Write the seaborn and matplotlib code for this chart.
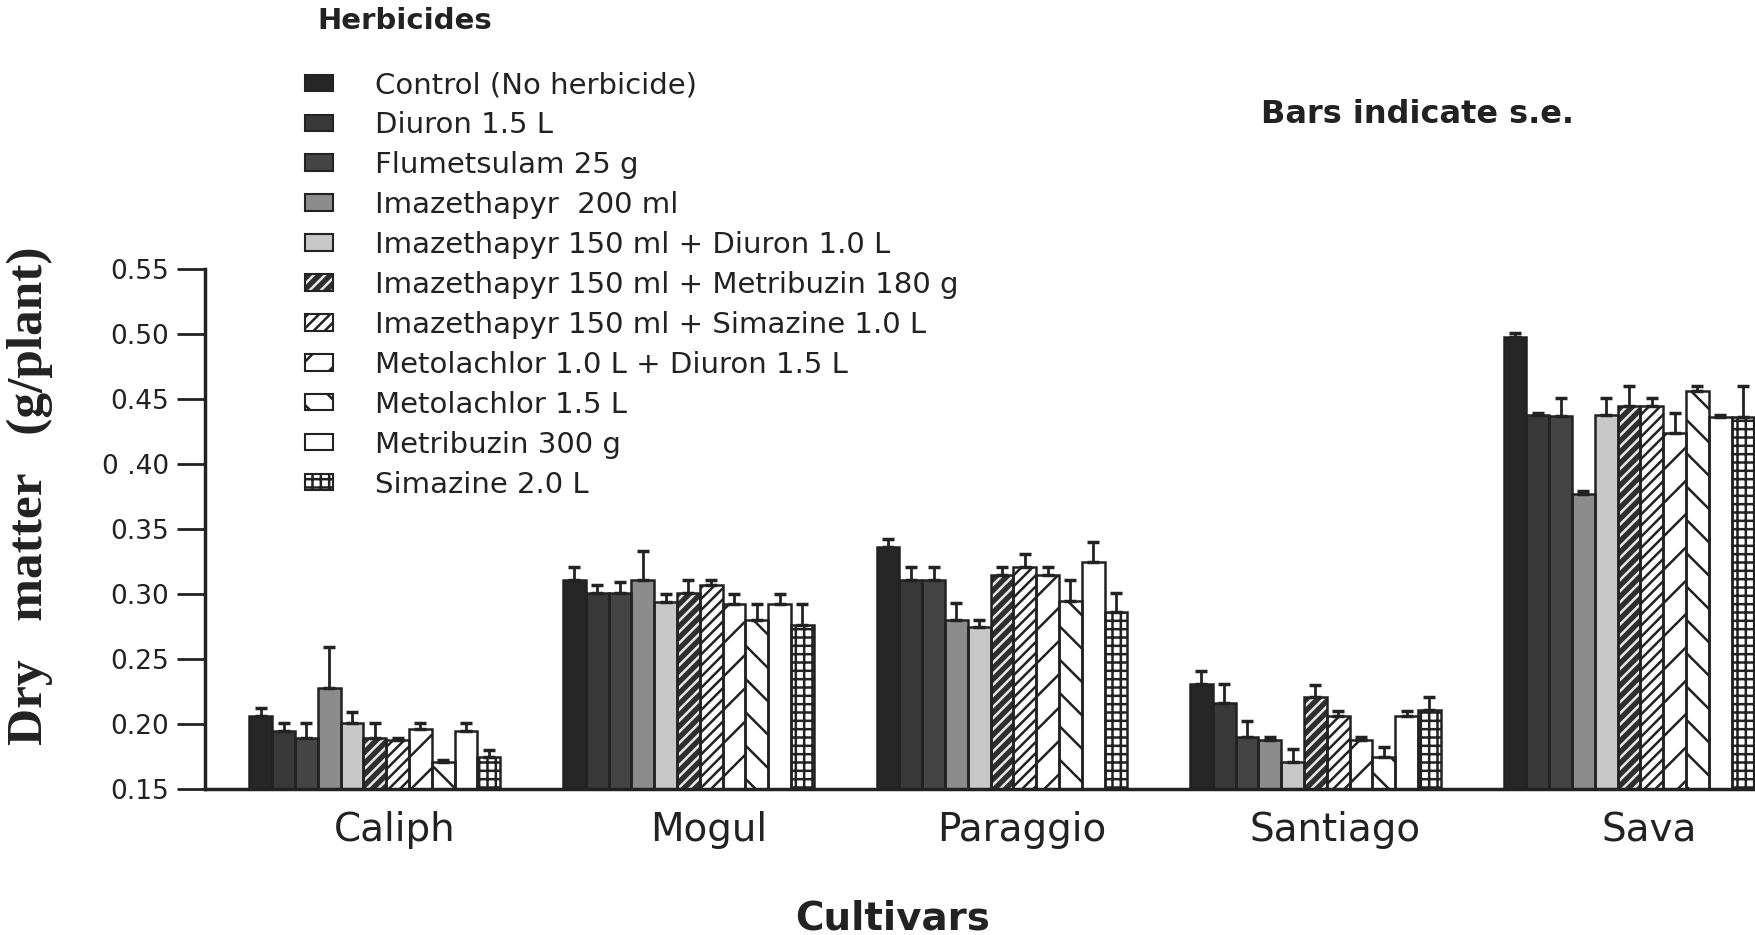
import numpy as np
import pandas as pd
import seaborn as sns
import matplotlib.pyplot as plt
import matplotlib.patches as mpatches
import matplotlib.transforms as mtransforms
from matplotlib.legend_handler import HandlerTuple

# cultivars on the x axis, herbicide treatments as the bars of each group
cultivars = ["Caliph", "Mogul", "Paraggio", "Santiago", "Sava"]
herbicides = [
    "Control (No herbicide)",
    "Diuron 1.5 L",
    "Flumetsulam 25 g",
    "Imazethapyr  200 ml",
    "Imazethapyr 150 ml + Diuron 1.0 L",
    "Imazethapyr 150 ml + Metribuzin 180 g",
    "Imazethapyr 150 ml + Simazine 1.0 L",
    "Metolachlor 1.0 L + Diuron 1.5 L",
    "Metolachlor 1.5 L",
    "Metribuzin 300 g",
    "Simazine 2.0 L",
]

# dry matter (g/plant), one value per herbicide
caliph = [0.206, 0.195, 0.189, 0.228, 0.201, 0.189, 0.188, 0.196, 0.171, 0.195, 0.175]
mogul = [0.311, 0.301, 0.301, 0.311, 0.294, 0.301, 0.307, 0.292, 0.280, 0.292, 0.276]
paraggio = [0.336, 0.311, 0.311, 0.280, 0.275, 0.315, 0.321, 0.315, 0.295, 0.325, 0.286]
santiago = [0.231, 0.216, 0.190, 0.188, 0.171, 0.221, 0.206, 0.188, 0.175, 0.206, 0.211]
sava = [0.498, 0.438, 0.437, 0.377, 0.438, 0.445, 0.445, 0.424, 0.456, 0.436, 0.436]

# standard errors
caliph_se = [0.006, 0.006, 0.012, 0.031, 0.008, 0.012, 0.001, 0.005, 0.001, 0.006, 0.005]
mogul_se = [0.010, 0.006, 0.008, 0.022, 0.006, 0.010, 0.004, 0.008, 0.012, 0.008, 0.016]
paraggio_se = [0.006, 0.010, 0.010, 0.013, 0.005, 0.006, 0.010, 0.006, 0.016, 0.015, 0.015]
santiago_se = [0.010, 0.015, 0.012, 0.002, 0.010, 0.009, 0.004, 0.002, 0.007, 0.004, 0.010]
sava_se = [0.003, 0.001, 0.014, 0.002, 0.013, 0.015, 0.006, 0.015, 0.004, 0.002, 0.024]

y_ticks = [0.15, 0.20, 0.25, 0.30, 0.35, 0.40, 0.45, 0.50, 0.55]
y_tick_labels = ["0.15", "0.20", "0.25", "0.30", "0.35", "0 .40", "0.45", "0.50", "0.55"]

# fill / hatch styles, one per herbicide
fills = ["#262626", "#383838", "#444444", "#8c8c8c", "#c8c8c8", "#2e2e2e",
         "white", "white", "white", "white", "white"]
hatches = [None, None, None, None, None, "///", "///", "/", "\\", None, "++"]
hatch_colors = ["#262626", "#383838", "#444444", "#8c8c8c", "#c8c8c8", "#e8e8e8",
                "#222222", "#222222", "#222222", "#222222", "#222222"]

df = pd.DataFrame({
    "Cultivar": np.repeat(cultivars, len(herbicides)),
    "Herbicide": herbicides * len(cultivars),
    "Dry matter": np.concatenate([caliph, mogul, paraggio, santiago, sava]),
    "se": np.concatenate([caliph_se, mogul_se, paraggio_se, santiago_se, sava_se]),
})

plt.rcParams["font.family"] = ["DejaVu Sans"]
plt.rcParams["hatch.linewidth"] = 1.8
ink = "#222222"

fig = plt.figure(figsize=(17.56, 9.35), dpi=100)
ax = fig.add_axes([0.1167, 0.1561, 0.8833, 0.5562])

sns.barplot(data=df, x="Cultivar", y="Dry matter", hue="Herbicide",
            order=cultivars, hue_order=herbicides, palette=dict(zip(herbicides, fills)),
            saturation=1, width=0.8, gap=0, errorbar=None, legend=False, ax=ax)

handles = []
for i, (cont, h) in enumerate(zip(ax.containers, herbicides)):
    for bar in cont:
        bar.set_hatch(hatches[i])
        bar.set_edgecolor(hatch_colors[i])
        bar.set_linewidth(0)
        ax.add_patch(mpatches.Rectangle((bar.get_x(), bar.get_y()), bar.get_width(),
                                        bar.get_height(), fill=False, ec=ink, lw=1.8,
                                        zorder=bar.get_zorder() + 0.1))
    xs = [b.get_x() + b.get_width() / 2 for b in cont]
    ys = [b.get_height() for b in cont]
    err = df.loc[df["Herbicide"] == h, "se"].to_numpy()
    ax.errorbar(xs, ys, yerr=[np.zeros_like(err), err], fmt="none", ecolor=ink,
                elinewidth=2, capsize=4.5, capthick=2.5, zorder=4)
    handles.append((mpatches.Patch(fc=fills[i], hatch=hatches[i], ec=hatch_colors[i], lw=0),
                    mpatches.Patch(fill=False, ec=ink, lw=1.5)))

ax.set_ylim(0.15, 0.55)
ax.set_xlim(-0.542, 4.405)
ax.set_yticks(y_ticks)
ax.set_yticklabels(y_tick_labels)
ax.tick_params(axis="y", length=20, width=2, pad=6, labelsize=19, colors=ink)
ax.tick_params(axis="x", length=0, pad=16, labelsize=28, colors=ink)
for lab in ax.get_xticklabels():
    lab.set_transform(lab.get_transform() + mtransforms.ScaledTranslation(0.2, 0, fig.dpi_scale_trans))
ax.set_xlabel("")
ax.set_ylabel("")
sns.despine(ax=ax)
for side in ["left", "bottom"]:
    ax.spines[side].set_linewidth(2.5)
    ax.spines[side].set_color(ink)

fig.text(0.017, 0.47, "Dry   matter   (g/plant)", rotation=90, ha="center", va="center",
         family="Liberation Serif", fontweight="bold", fontsize=37, color=ink)
fig.text(0.5085, 0.018, "Cultivars", ha="center", va="center", fontweight="bold",
         fontsize=28, color=ink)
fig.text(0.807, 0.878, "Bars indicate s.e.", ha="center", va="center", fontweight="bold",
         fontsize=23, color=ink)
fig.text(0.1805, 0.978, "Herbicides", ha="left", va="center", fontweight="bold",
         fontsize=21, color=ink)

fig.legend(handles, herbicides, handler_map={tuple: HandlerTuple(ndivide=1, pad=0)},
           loc="upper left", bbox_to_anchor=(0.1737, 0.924), frameon=False,
           fontsize=21, handlelength=0.96, handleheight=0.48, handletextpad=1.44,
           labelspacing=0.41, borderpad=0, borderaxespad=0, labelcolor=ink)

fig.savefig("out.png", dpi=100, facecolor="white")
